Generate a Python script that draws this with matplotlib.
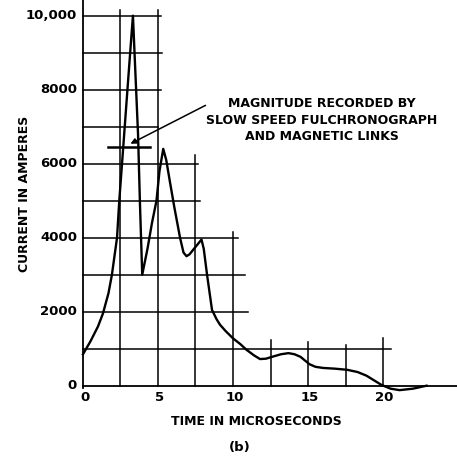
import matplotlib
matplotlib.use('Agg')
import matplotlib.pyplot as plt

# current trace (microseconds, amperes)
t = [0, 0.5, 1.0, 1.33, 1.7, 1.93, 2.1, 2.27, 2.42, 2.65, 3.0, 3.33, 3.5, 3.67, 3.8, 3.95,
     4.3, 4.6, 4.9, 5.1, 5.35, 5.55, 5.8, 6.1, 6.47, 6.7, 6.9, 7.1, 7.5, 7.9, 8.05, 8.27,
     8.6, 8.9, 9.13, 9.5, 10.0, 10.5, 10.9, 11.4, 11.8, 12.2, 12.6, 13.2, 13.7, 14.1, 14.5,
     15.1, 15.5, 16.0, 16.8, 17.6, 18.3, 18.9, 19.5, 19.9, 20.5, 21.1, 22.0, 22.9]
amps = [850, 1200, 1600, 1950, 2500, 3000, 3500, 4000, 5000, 6260, 8200, 10000, 8400, 6800, 4900, 3000,
        3700, 4400, 5000, 5800, 6400, 6100, 5500, 4800, 4000, 3600, 3500, 3550, 3750, 3950, 3700, 3000,
        2050, 1800, 1650, 1480, 1280, 1120, 970, 820, 720, 730, 780, 850, 880, 850, 780,
        580, 510, 480, 460, 430, 370, 270, 120, 20, -80, -120, -80, 0]

# hand drawn grid: horizontal lines (level, right end) and vertical lines (position, top)
h_levels = [1000, 2000, 3000, 4000, 5000, 6000, 7000, 8000, 9000, 10000]
h_ends = [20.5, 11.0, 10.8, 10.3, 7.8, 7.7, 5.0, 5.2, 5.3, 5.2]
v_pos = [2.5, 5, 7.5, 10, 12.5, 15, 17.5, 20]
v_tops = [10150, 10150, 6240, 4150, 1240, 1180, 1100, 1290]

xticks = [0, 5, 10, 15, 20]
yticks = [0, 2000, 4000, 6000, 8000, 10000]
ytick_labels = ['0', '2000', '4000', '6000', '8000', '10,000']

slow_level = 6450
slow_span = [1.67, 4.47]

font = dict(family='DejaVu Sans', fontweight='bold', color='black')

fig = plt.figure(figsize=(4.57, 4.57), dpi=100)
ax = fig.add_axes([0, 0, 1, 1])
ax.set_xlim(-5.53, 24.93)
ax.set_ylim(-1927, 10424)
ax.axis('off')

# axes lines
ax.plot([0, 0], [-60, 10424], color='black', lw=1.3)
ax.plot([0, 24.93], [0, 0], color='black', lw=1.3)

for lev, end in zip(h_levels, h_ends):
    ax.plot([0, end], [lev, lev], color='black', lw=1.1)
for pos, top in zip(v_pos, v_tops):
    ax.plot([pos, pos], [0, top], color='black', lw=1.1)

ax.plot(t, amps, color='black', lw=1.7, solid_joinstyle='round')
ax.plot(slow_span, [slow_level, slow_level], color='black', lw=1.8)

for v, lab in zip(yticks, ytick_labels):
    ax.text(-0.4, v, lab, ha='right', va='center', fontsize=9.5, **font)
for v in xticks:
    ax.text(v + (0.13 if v == 0 else 0.1), -330, str(v), ha='center', va='center', fontsize=9.5, **font)

ax.text(11.53, -980, 'TIME IN MICROSECONDS', ha='center', va='center', fontsize=9, **font)
ax.text(-3.93, 5180, 'CURRENT IN AMPERES', ha='center', va='center', rotation=90, fontsize=9, **font)
ax.text(10.47, -1660, '(b)', ha='center', va='center', fontsize=9.5, **font)

ax.text(15.9, 7170, 'MAGNITUDE RECORDED BY\nSLOW SPEED FULCHRONOGRAPH\nAND MAGNETIC LINKS',
        ha='center', va='center', fontsize=9, linespacing=1.35, **font)
ax.annotate('', xy=(3.0, 6505), xytext=(8.33, 7610),
            arrowprops=dict(arrowstyle='-|>', color='black', lw=1.1, mutation_scale=8))

fig.savefig('out.png', dpi=100)
